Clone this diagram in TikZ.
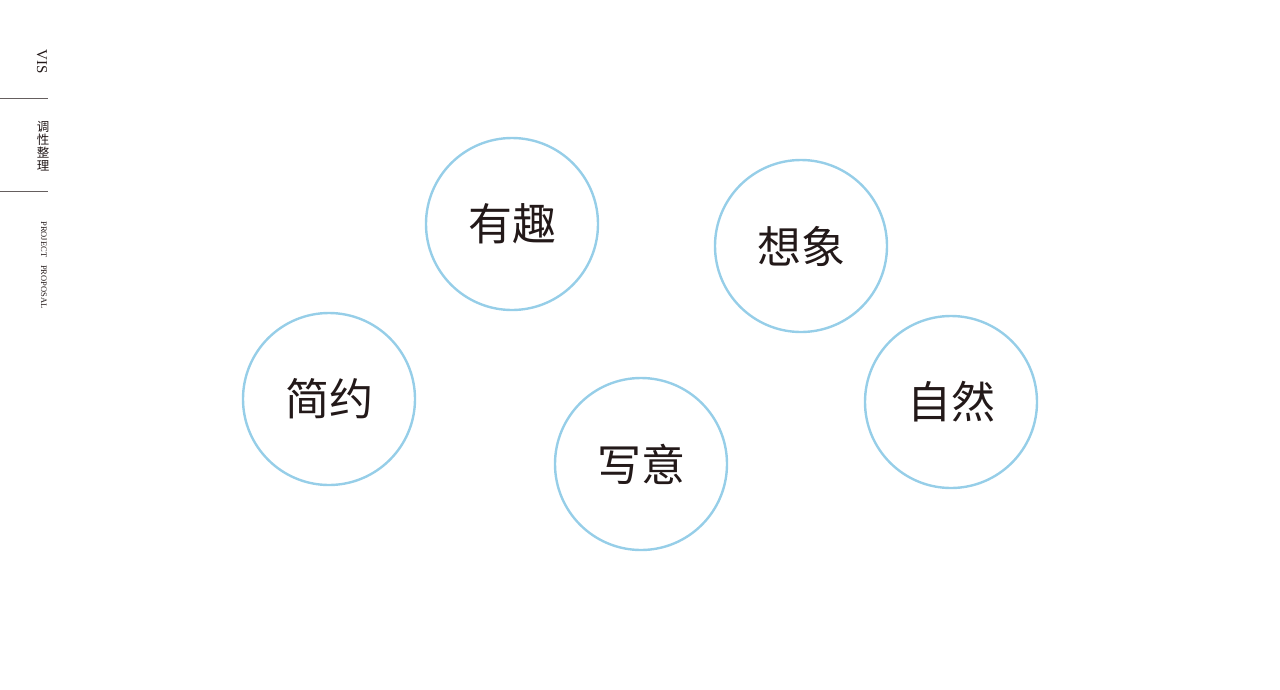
\documentclass[tikz,border=0pt]{standalone}
\usepackage{fontspec}
\newfontfamily\cjk{Noto Sans CJK SC}
\setmainfont{Liberation Serif}
\definecolor{ring}{RGB}{150,206,232}
\definecolor{ink}{RGB}{35,25,25}
\begin{document}
\begin{tikzpicture}[x=1pt,y=-1pt,
  bub/.style={circle,draw=ring,line width=2.4pt,minimum size=172pt,inner sep=0pt,text=ink,font=\cjk\fontsize{44}{44}\selectfont},
  rule/.style={draw=ink!70,line width=0.6pt}]
\useasboundingbox (0,0) rectangle (1280,689);
\node[bub] (a) at (512,224) {有趣};
\node[bub] (b) at (801,246) {想象};
\node[bub] (c) at (329,399) {简约};
\node[bub] (d) at (641,464) {写意};
\node[bub] (e) at (951,402) {自然};
\node[rotate=-90,font=\fontsize{15}{15}\selectfont,text=ink] (vis) at (42,62) {VIS};
\coordinate (l1a) at (0,98); \coordinate (l1b) at (48,98);
\coordinate (l2a) at (0,191); \coordinate (l2b) at (48,191);
\draw[rule] (l1a) -- (l1b);
\draw[rule] (l2a) -- (l2b);
\node[font=\cjk\fontsize{12.5}{13}\selectfont,text=ink,align=center] (tx) at (43,146) {调\\性\\整\\理};
\node[rotate=-90,font=\fontsize{8.5}{9}\selectfont,text=ink] (pp) at (44,265) {PROJECT\hspace{8pt}PROPOSAL};
\end{tikzpicture}
\end{document}
